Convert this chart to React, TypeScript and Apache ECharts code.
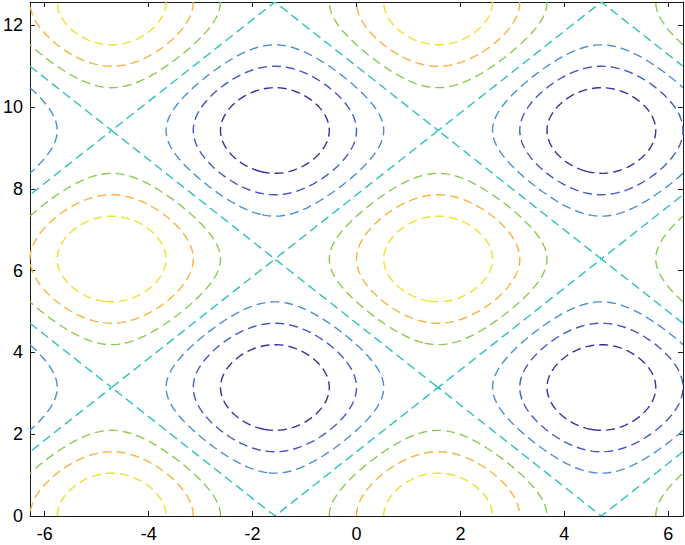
import React, { useEffect, useRef } from "react";
import * as echarts from "echarts";

const xTicks = [-6, -4, -2, 0, 2, 4, 6];
const yTicks = [0, 2, 4, 6, 8, 10, 12];
const levels = [-1.5, -1, -0.5, 0, 0.5, 1, 1.5];
const levelColors = ["#3d2f9f", "#4657c9", "#4a8fd6", "#2cc2bd", "#8acb4f", "#f8b43e", "#efe12c"];
const xRange = [-2 * Math.PI, 2 * Math.PI];
const yRange = [0, 4 * Math.PI];
const NX = 201;
const NY = 201;
const surface = (x: number, y: number) => Math.sin(x) + Math.cos(y);

function buildGrid() {
  const xs: number[] = [];
  const ys: number[] = [];
  for (let i = 0; i <= NX; i++) xs.push(xRange[0] + ((xRange[1] - xRange[0]) * i) / NX);
  for (let j = 0; j <= NY; j++) ys.push(yRange[0] + ((yRange[1] - yRange[0]) * j) / NY);
  const z: number[][] = [];
  for (let j = 0; j <= NY; j++) {
    const row: number[] = [];
    for (let i = 0; i <= NX; i++) row.push(surface(xs[i], ys[j]));
    z.push(row);
  }
  return { xs, ys, z };
}

function contourLines(level: number, g: { xs: number[]; ys: number[]; z: number[][] }) {
  const { xs, ys, z } = g;
  const pts: Record<string, [number, number]> = {};
  const segs: [string, string][] = [];
  const hKey = (i: number, j: number) => {
    const k = "h" + i + "_" + j;
    if (!pts[k]) {
      const a = z[j][i], b = z[j][i + 1];
      const t = (level - a) / (b - a);
      pts[k] = [xs[i] + t * (xs[i + 1] - xs[i]), ys[j]];
    }
    return k;
  };
  const vKey = (i: number, j: number) => {
    const k = "v" + i + "_" + j;
    if (!pts[k]) {
      const a = z[j][i], b = z[j + 1][i];
      const t = (level - a) / (b - a);
      pts[k] = [xs[i], ys[j] + t * (ys[j + 1] - ys[j])];
    }
    return k;
  };
  for (let j = 0; j < NY; j++) {
    for (let i = 0; i < NX; i++) {
      const z0 = z[j][i] >= level;
      const z1 = z[j][i + 1] >= level;
      const z2 = z[j + 1][i + 1] >= level;
      const z3 = z[j + 1][i] >= level;
      const B = z0 !== z1 ? hKey(i, j) : null;
      const R = z1 !== z2 ? vKey(i + 1, j) : null;
      const T = z3 !== z2 ? hKey(i, j + 1) : null;
      const L = z0 !== z3 ? vKey(i, j) : null;
      const list = [B, R, T, L].filter((k) => k !== null) as string[];
      if (list.length === 2) segs.push([list[0], list[1]]);
      else if (list.length === 4) {
        const c = (z[j][i] + z[j][i + 1] + z[j + 1][i + 1] + z[j + 1][i]) / 4 >= level;
        if (c === z0) {
          segs.push([B as string, R as string]);
          segs.push([T as string, L as string]);
        } else {
          segs.push([B as string, L as string]);
          segs.push([R as string, T as string]);
        }
      }
    }
  }
  const adj: Record<string, number[]> = {};
  segs.forEach((s, idx) => {
    (adj[s[0]] = adj[s[0]] || []).push(idx);
    (adj[s[1]] = adj[s[1]] || []).push(idx);
  });
  const used = new Array(segs.length).fill(false);
  const walk = (start: string) => {
    const out: string[] = [];
    let cur = start;
    for (;;) {
      const cand = (adj[cur] || []).find((s) => !used[s]);
      if (cand === undefined) break;
      used[cand] = true;
      const s = segs[cand];
      const nxt = s[0] === cur ? s[1] : s[0];
      out.push(nxt);
      cur = nxt;
    }
    return out;
  };
  const chains: [number, number][][] = [];
  for (let s = 0; s < segs.length; s++) {
    if (used[s]) continue;
    used[s] = true;
    const [a, b] = segs[s];
    const fwd = walk(b);
    const bwd = walk(a);
    const keys = [...bwd.reverse(), a, b, ...fwd];
    chains.push(keys.map((k) => pts[k]));
  }
  return chains;
}

export default function App() {
  const ref = useRef<HTMLDivElement>(null);
  useEffect(() => {
    if (!ref.current) return;
    const chart = echarts.init(ref.current, undefined, { renderer: "svg" });
    const grid = buildGrid();
    const series: any[] = [];
    levels.forEach((lv, li) => {
      contourLines(lv, grid).forEach((chain) => {
        series.push({
          type: "line",
          data: chain,
          showSymbol: false,
          symbol: "none",
          silent: true,
          clip: true,
          xAxisIndex: 0,
          yAxisIndex: 0,
          lineStyle: { color: levelColors[li], width: 1.4, type: [9, 5] },
        });
      });
    });
    const font = { color: "#000", fontSize: 18, fontFamily: "Liberation Sans, Arial, sans-serif" };
    const axisLine = { show: true, onZero: false, lineStyle: { color: "#1a1a1a", width: 1 } };
    chart.setOption({
      animation: false,
      backgroundColor: "#fff",
      grid: { left: 29, right: 2, top: 2, bottom: 29, containLabel: false },
      xAxis: [
        {
          type: "value", min: xRange[0], max: xRange[1], position: "bottom",
          axisLine, splitLine: { show: false },
          axisTick: { show: true, inside: true, length: 5, customValues: xTicks, lineStyle: { color: "#1a1a1a" } },
          axisLabel: { ...font, margin: 9, customValues: xTicks },
        },
        {
          type: "value", min: xRange[0], max: xRange[1], position: "top",
          axisLine, splitLine: { show: false },
          axisTick: { show: true, inside: true, length: 5, customValues: xTicks, lineStyle: { color: "#1a1a1a" } },
          axisLabel: { show: false },
        },
      ],
      yAxis: [
        {
          type: "value", min: yRange[0], max: yRange[1], position: "left",
          axisLine, splitLine: { show: false },
          axisTick: { show: true, inside: true, length: 5, customValues: yTicks, lineStyle: { color: "#1a1a1a" } },
          axisLabel: { ...font, margin: 7, customValues: yTicks },
        },
        {
          type: "value", min: yRange[0], max: yRange[1], position: "right",
          axisLine, splitLine: { show: false },
          axisTick: { show: true, inside: true, length: 5, customValues: yTicks, lineStyle: { color: "#1a1a1a" } },
          axisLabel: { show: false },
        },
      ],
      series,
    });
    return () => chart.dispose();
  }, []);
  return <div ref={ref} style={{ position: "fixed", left: 0, top: 0, width: 685, height: 545 }} />;
}
